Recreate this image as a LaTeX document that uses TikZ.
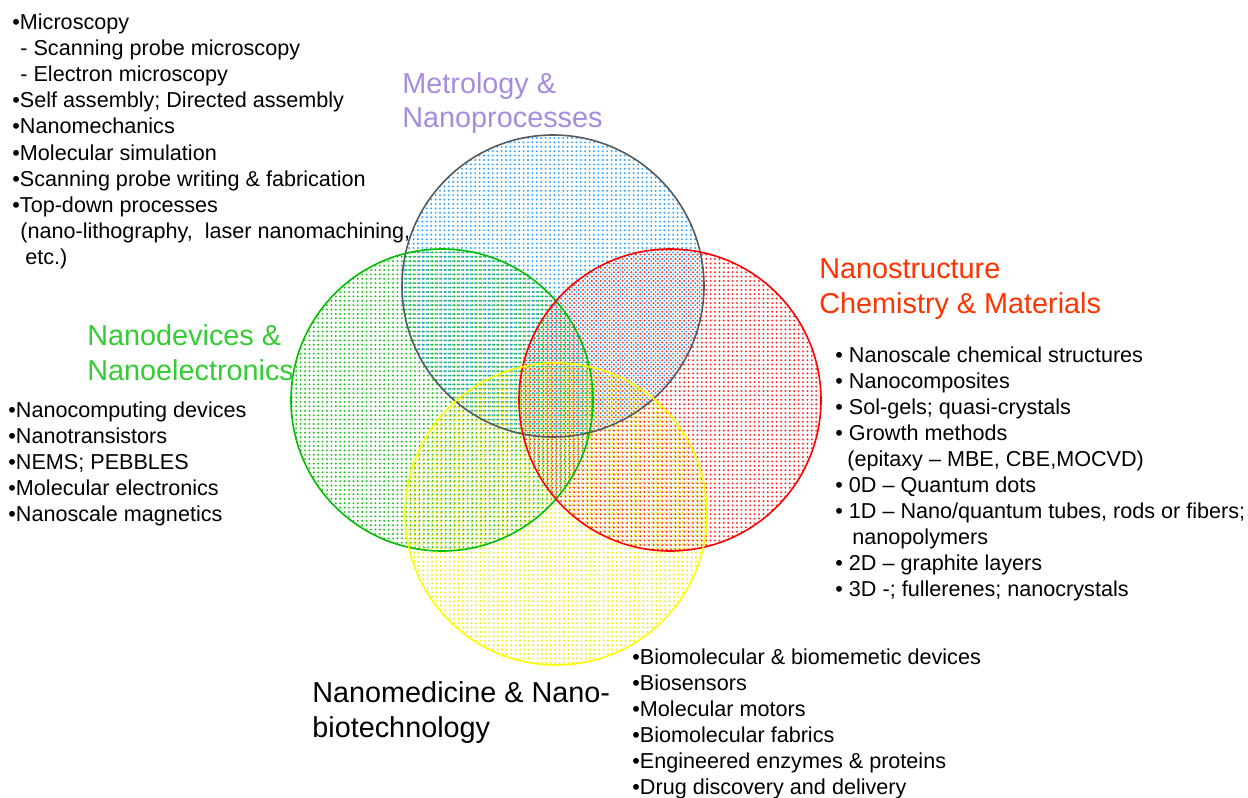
\documentclass[tikz,border=0pt]{standalone}
\usepackage{fontspec}
\setmainfont{Liberation Sans}
\usetikzlibrary{patterns.meta}
\definecolor{metcol}{RGB}{167,139,224}
\definecolor{chemcol}{RGB}{255,51,0}
\definecolor{devcol}{RGB}{51,204,51}
\definecolor{metline}{RGB}{85,90,95}
\definecolor{devline}{RGB}{0,190,0}
\definecolor{chemline}{RGB}{255,0,0}
\definecolor{bioline}{RGB}{255,255,0}
\definecolor{metdot}{RGB}{50,165,255}
\definecolor{devdot}{RGB}{30,195,30}
\definecolor{chemdot}{RGB}{255,40,40}
\definecolor{biodot}{RGB}{245,235,0}
\tikzset{
  listtxt/.style={anchor=base west,inner sep=0pt,font=\fontsize{10.8}{13}\selectfont},
  headtxt/.style={anchor=base west,inner sep=0pt,font=\fontsize{14.4}{17}\selectfont},
}
\begin{document}
\begin{tikzpicture}[x=0.5pt,y=-0.5pt,line cap=round,line join=round]
  \useasboundingbox (0,0) rectangle (1248,798);
  % dotted discs
  \foreach \name/\cx/\cy/\dcol/\dx/\dy in
   {met/553/286/metdot/0/0,dev/442/400/devdot/.7/0,
    chem/670/400/chemdot/1.1/1.1,bio/556/514/biodot/.4/1.6}{
    \coordinate (\name) at (\cx,\cy);
    \fill[pattern={Dots[distance=2.2pt,radius=.55pt,xshift=\dx pt,yshift=\dy pt]},
      pattern color=\dcol] (\name) circle[radius=151];
  }
  \foreach \name/\lcol in {met/metline,dev/devline,chem/chemline,bio/bioline}
    \draw[\lcol,line width=.8pt] (\name) circle[radius=151];
  % headings
  \node[headtxt,text=metcol] (met-h1) at (402,93) {Metrology \&};
  \node[headtxt,text=metcol] (met-h2) at (402,127) {Nanoprocesses};
  \node[headtxt,text=chemcol] (chem-h1) at (819,278) {Nanostructure};
  \node[headtxt,text=chemcol] (chem-h2) at (819,313) {Chemistry \& Materials};
  \node[headtxt,text=devcol] (dev-h1) at (87,345) {Nanodevices \&};
  \node[headtxt,text=devcol] (dev-h2) at (87,380) {Nanoelectronics};
  \node[headtxt] (bio-h1) at (312,702) {Nanomedicine \& Nano-};
  \node[headtxt] (bio-h2) at (312,737) {biotechnology};
  % lists
  \foreach \x/\t [count=\i] in
   {12/•Microscopy,20/- Scanning probe microscopy,20/- Electron microscopy,
    12/•Self assembly; Directed assembly,12/•Nanomechanics,
    12/•Molecular simulation,12/•Scanning probe writing \& fabrication,
    12/•Top-down processes,20/{(nano-lithography,\ \ laser nanomachining,},
    25/etc.)}
    \node[listtxt] (met-\i) at (\x,{29+(\i-1)*26.2}) {\t};
  \foreach \x/\t [count=\i] in
   {835/• Nanoscale chemical structures,835/• Nanocomposites,
    835/• Sol-gels; quasi-crystals,835/• Growth methods,
    847/{(epitaxy – MBE, CBE,MOCVD)},835/• 0D – Quantum dots,
    835/{• 1D – Nano/quantum tubes, rods or fibers;},852/nanopolymers,
    835/• 2D – graphite layers,835/• 3D -; fullerenes; nanocrystals}
    \node[listtxt] (chem-\i) at (\x,{362+(\i-1)*26.1}) {\t};
  \foreach \t [count=\i] in
   {•Nanocomputing devices,•Nanotransistors,•NEMS; PEBBLES,
    •Molecular electronics,•Nanoscale magnetics}
    \node[listtxt] (dev-\i) at (8,{417+(\i-1)*26.2}) {\t};
  \foreach \t [count=\i] in
   {•Biomolecular \& biomemetic devices,•Biosensors,•Molecular motors,
    •Biomolecular fabrics,•Engineered enzymes \& proteins,
    •Drug discovery and delivery}
    \node[listtxt] (bio-\i) at (632,{664+(\i-1)*26}) {\t};
\end{tikzpicture}
\end{document}
